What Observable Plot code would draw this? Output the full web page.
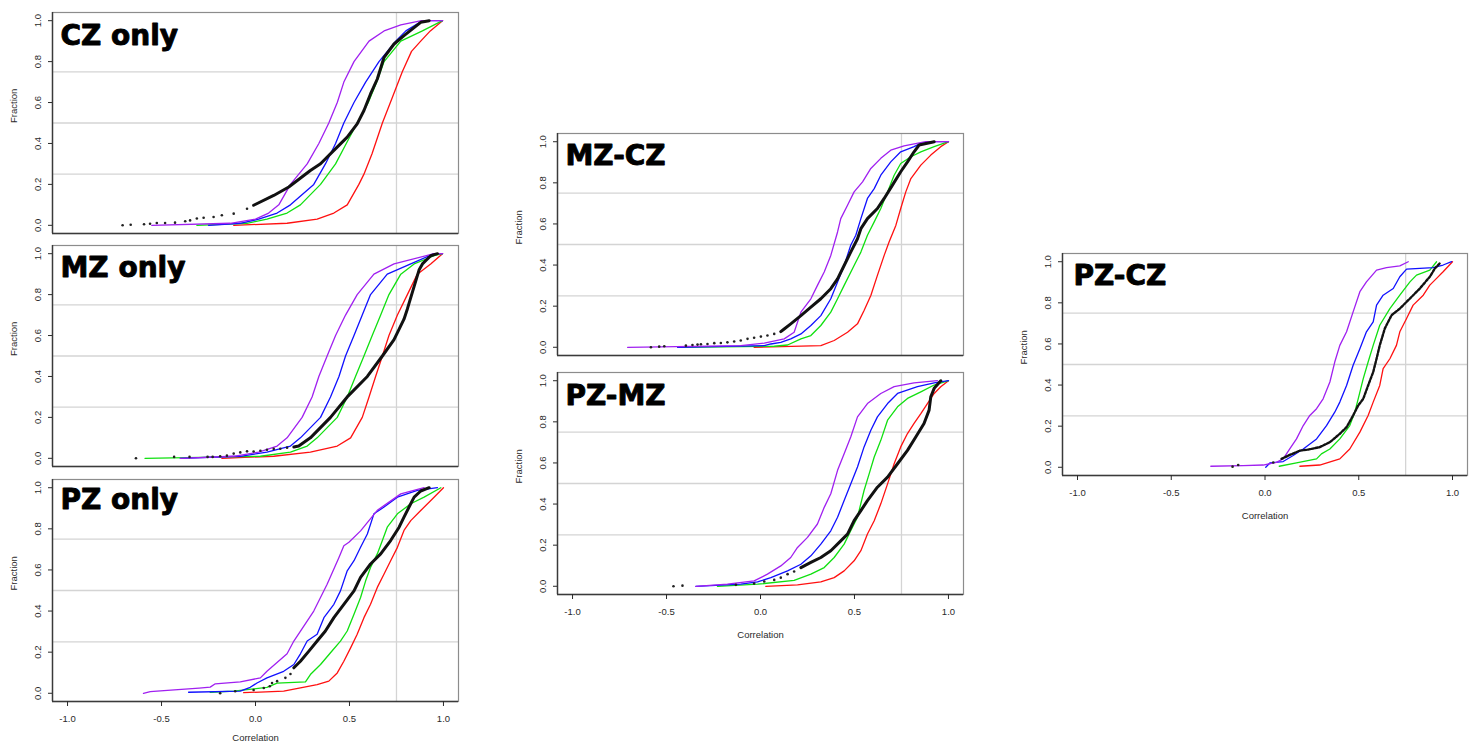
<!DOCTYPE html>
<html><head><meta charset="utf-8">
<script src="https://cdn.jsdelivr.net/npm/d3@7"></script>
<script src="https://cdn.jsdelivr.net/npm/@observablehq/plot@0.6"></script>
<style>
html,body{margin:0;padding:0;background:#fff;overflow:hidden;}
#wrap{position:relative;width:1473px;height:744px;overflow:hidden;}
#wrap svg{position:absolute;overflow:visible;}
</style></head><body><div id="wrap"></div>
<script>
// ---- axis / reference values ----
const xTicks = [-1, -0.5, 0, 0.5, 1];
const yTicks = [0, 0.2, 0.4, 0.6, 0.8, 1];
const fracLines = [0.25, 0.5, 0.75];
const corrLine = [0.75];
const panelTitles = ["CZ only", "MZ only", "PZ only", "MZ-CZ", "PZ-MZ", "PZ-CZ"];

// ---- CZ only : [correlation, fraction] ----
const czPurple = [[-0.552,0],[-0.134,0.01],[0.0,0.03],[0.07,0.06],[0.124,0.1],[0.186,0.2],[0.275,0.3],[0.337,0.4],[0.39,0.5],[0.435,0.6],[0.47,0.7],[0.524,0.8],[0.604,0.9],[0.684,0.95],[0.773,0.98],[0.883,1],[0.995,1]];
const czBlue = [[-0.25,0],[-0.081,0.01],[0.017,0.03],[0.115,0.06],[0.186,0.1],[0.31,0.2],[0.372,0.3],[0.426,0.4],[0.47,0.5],[0.524,0.6],[0.586,0.7],[0.657,0.8],[0.746,0.9],[0.8,0.95],[0.888,1],[0.995,1]];
const czGreen = [[-0.312,0],[-0.045,0.01],[0.061,0.03],[0.168,0.06],[0.239,0.1],[0.346,0.2],[0.426,0.3],[0.483,0.4],[0.541,0.5],[0.6,0.6],[0.645,0.7],[0.684,0.8],[0.773,0.9],[0.888,0.95],[0.995,1]];
const czRed = [[-0.116,0],[0.168,0.01],[0.328,0.03],[0.417,0.06],[0.488,0.1],[0.55,0.2],[0.577,0.25],[0.62,0.35],[0.675,0.5],[0.73,0.63],[0.781,0.75],[0.83,0.85],[0.879,0.9],[0.93,0.95],[0.995,1]];
const czBlack = [[-0.01,0.098],[0.097,0.146],[0.177,0.187],[0.292,0.268],[0.346,0.301],[0.417,0.366],[0.488,0.431],[0.541,0.496],[0.577,0.561],[0.612,0.642],[0.648,0.715],[0.684,0.821],[0.737,0.886],[0.79,0.927],[0.879,0.992],[0.924,1]];
const czTail = [[-0.707,0],[-0.664,0.003],[-0.593,0.005],[-0.561,0.008],[-0.525,0.011],[-0.481,0.011],[-0.428,0.013],[-0.374,0.02],[-0.348,0.024],[-0.312,0.033],[-0.276,0.037],[-0.223,0.041],[-0.179,0.049],[-0.116,0.057],[-0.045,0.081]];

// ---- MZ only ----
const mzPurple = [[-0.4,0],[-0.116,0.01],[0.017,0.03],[0.115,0.06],[0.168,0.1],[0.248,0.2],[0.301,0.3],[0.337,0.4],[0.381,0.5],[0.426,0.6],[0.479,0.7],[0.541,0.8],[0.63,0.9],[0.737,0.95],[0.95,1],[0.995,1]];
const mzBlue = [[-0.4,0],[-0.081,0.01],[0.061,0.03],[0.186,0.06],[0.239,0.1],[0.346,0.2],[0.399,0.3],[0.444,0.4],[0.479,0.5],[0.524,0.6],[0.568,0.7],[0.612,0.8],[0.701,0.9],[0.826,0.95],[0.95,1],[0.995,1]];
const mzGreen = [[-0.588,0],[0.026,0.01],[0.186,0.03],[0.275,0.06],[0.328,0.1],[0.435,0.2],[0.488,0.3],[0.532,0.4],[0.577,0.5],[0.621,0.6],[0.666,0.7],[0.71,0.8],[0.773,0.9],[0.844,0.95],[0.95,0.99],[0.995,1]];
const mzRed = [[-0.179,0],[0.097,0.01],[0.292,0.03],[0.435,0.06],[0.506,0.1],[0.568,0.2],[0.604,0.3],[0.639,0.4],[0.675,0.5],[0.71,0.6],[0.755,0.7],[0.808,0.8],[0.861,0.9],[0.932,0.95],[0.995,1]];
const mzBlack = [[0.204,0.055],[0.23,0.06],[0.292,0.1],[0.399,0.2],[0.488,0.3],[0.595,0.4],[0.675,0.5],[0.737,0.58],[0.79,0.68],[0.808,0.73],[0.844,0.84],[0.87,0.92],[0.888,0.95],[0.932,0.99],[0.968,1]];
const mzTail = [[-0.636,0],[-0.433,0.007],[-0.351,0.007],[-0.255,0.007],[-0.228,0.007],[-0.188,0.01],[-0.152,0.013],[-0.116,0.023],[-0.081,0.029],[-0.045,0.034],[-0.01,0.033],[0.026,0.037],[0.061,0.042],[0.097,0.046],[0.132,0.047],[0.168,0.052]];

// ---- PZ only ----
const pzPurple = [[-0.596,0],[-0.56,0.008],[-0.45,0.015],[-0.3,0.025],[-0.241,0.03],[-0.214,0.046],[-0.081,0.055],[0.026,0.075],[0.061,0.107],[0.168,0.192],[0.204,0.254],[0.31,0.4],[0.381,0.53],[0.444,0.661],[0.47,0.718],[0.497,0.735],[0.559,0.79],[0.648,0.89],[0.773,0.97],[0.897,1]];
const pzBlue = [[-0.356,0.005],[-0.081,0.01],[-0.028,0.029],[0.008,0.05],[0.061,0.075],[0.15,0.107],[0.204,0.14],[0.239,0.192],[0.275,0.254],[0.328,0.287],[0.364,0.368],[0.417,0.433],[0.452,0.498],[0.488,0.596],[0.524,0.645],[0.559,0.71],[0.595,0.775],[0.63,0.873],[0.684,0.906],[0.755,0.954],[0.861,0.987],[0.968,1]];
const pzGreen = [[-0.241,0.005],[-0.116,0.01],[0.061,0.029],[0.115,0.049],[0.266,0.055],[0.292,0.091],[0.346,0.14],[0.399,0.197],[0.452,0.254],[0.488,0.303],[0.524,0.384],[0.559,0.466],[0.586,0.547],[0.612,0.612],[0.648,0.678],[0.675,0.743],[0.701,0.808],[0.755,0.873],[0.826,0.922],[0.897,0.954],[0.986,1]];
const pzRed = [[-0.063,0.003],[0.15,0.01],[0.239,0.026],[0.328,0.042],[0.39,0.059],[0.435,0.099],[0.47,0.156],[0.506,0.221],[0.541,0.287],[0.577,0.368],[0.612,0.433],[0.648,0.515],[0.684,0.58],[0.719,0.645],[0.755,0.71],[0.79,0.792],[0.826,0.84],[0.879,0.889],[0.95,0.954],[1.0,1]];
const pzBlack = [[0.204,0.124],[0.239,0.156],[0.284,0.205],[0.328,0.254],[0.372,0.303],[0.417,0.368],[0.47,0.433],[0.524,0.498],[0.559,0.564],[0.612,0.629],[0.666,0.678],[0.719,0.743],[0.764,0.808],[0.79,0.857],[0.817,0.906],[0.844,0.954],[0.879,0.984],[0.924,1]];
const pzTail = [[-0.188,0],[-0.108,0.01],[-0.01,0.016],[0.044,0.026],[0.076,0.034],[0.088,0.05],[0.115,0.059],[0.159,0.075],[0.186,0.094]];

// ---- MZ-CZ ----
const mzczPurple = [[-0.707,0],[-0.105,0.008],[0.02,0.02],[0.126,0.041],[0.179,0.073],[0.215,0.171],[0.268,0.236],[0.303,0.301],[0.339,0.366],[0.374,0.447],[0.41,0.561],[0.427,0.626],[0.463,0.691],[0.498,0.756],[0.543,0.805],[0.587,0.87],[0.64,0.919],[0.693,0.959],[0.764,0.98],[0.879,1],[1.0,1]];
const mzczBlue = [[-0.441,0],[0.02,0.008],[0.055,0.016],[0.108,0.024],[0.161,0.041],[0.215,0.065],[0.268,0.106],[0.321,0.154],[0.374,0.236],[0.41,0.317],[0.445,0.398],[0.48,0.496],[0.507,0.545],[0.534,0.626],[0.569,0.724],[0.605,0.772],[0.64,0.837],[0.693,0.902],[0.746,0.951],[0.817,0.976],[0.853,0.992],[0.924,1],[1.0,1]];
const mzczGreen = [[-0.441,0],[0.073,0.005],[0.144,0.011],[0.215,0.041],[0.268,0.057],[0.321,0.106],[0.374,0.171],[0.41,0.236],[0.445,0.301],[0.498,0.398],[0.534,0.463],[0.569,0.545],[0.605,0.61],[0.64,0.675],[0.676,0.756],[0.711,0.837],[0.746,0.894],[0.8,0.927],[0.853,0.951],[0.924,0.976],[1.0,1]];
const mzczRed = [[-0.034,0],[0.321,0.008],[0.392,0.033],[0.463,0.073],[0.516,0.114],[0.551,0.179],[0.587,0.252],[0.622,0.35],[0.658,0.447],[0.684,0.512],[0.72,0.593],[0.746,0.675],[0.773,0.756],[0.8,0.821],[0.853,0.886],[0.906,0.935],[0.959,0.976],[1.0,1]];
const mzczBlack = [[0.108,0.076],[0.126,0.089],[0.161,0.114],[0.215,0.154],[0.268,0.195],[0.321,0.236],[0.374,0.285],[0.41,0.333],[0.445,0.398],[0.48,0.463],[0.516,0.528],[0.534,0.577],[0.569,0.626],[0.622,0.675],[0.658,0.724],[0.702,0.789],[0.746,0.854],[0.782,0.902],[0.817,0.951],[0.844,0.984],[0.924,1]];
const mzczTail = [[-0.583,0],[-0.539,0.003],[-0.512,0.005],[-0.397,0.008],[-0.362,0.011],[-0.335,0.013],[-0.317,0.015],[-0.282,0.016],[-0.246,0.02],[-0.211,0.021],[-0.176,0.024],[-0.14,0.028],[-0.105,0.033],[-0.069,0.041],[-0.034,0.046],[0.002,0.052],[0.037,0.057],[0.073,0.065]];

// ---- PZ-MZ ----
const pzmzPurple = [[-0.344,0],[-0.176,0.01],[-0.034,0.026],[0.037,0.059],[0.108,0.099],[0.161,0.14],[0.197,0.189],[0.25,0.238],[0.303,0.303],[0.339,0.384],[0.374,0.45],[0.41,0.564],[0.445,0.645],[0.48,0.726],[0.516,0.824],[0.569,0.889],[0.64,0.938],[0.711,0.971],[0.817,0.99],[0.941,1]];
const pzmzBlue = [[-0.344,0],[-0.105,0.01],[-0.016,0.021],[0.055,0.042],[0.144,0.075],[0.215,0.107],[0.268,0.148],[0.321,0.205],[0.374,0.27],[0.41,0.336],[0.445,0.417],[0.48,0.498],[0.516,0.58],[0.551,0.678],[0.587,0.759],[0.622,0.824],[0.676,0.889],[0.729,0.938],[0.835,0.971],[0.924,0.99],[1.0,1]];
const pzmzGreen = [[-0.229,0],[-0.016,0.01],[0.179,0.029],[0.268,0.059],[0.339,0.091],[0.392,0.14],[0.445,0.205],[0.48,0.27],[0.516,0.336],[0.551,0.466],[0.578,0.547],[0.605,0.629],[0.64,0.71],[0.676,0.808],[0.729,0.873],[0.782,0.914],[0.853,0.946],[0.924,0.979],[1.0,1]];
const pzmzRed = [[0.028,0],[0.197,0.007],[0.321,0.021],[0.392,0.042],[0.445,0.075],[0.498,0.124],[0.534,0.173],[0.569,0.254],[0.605,0.319],[0.64,0.401],[0.676,0.498],[0.711,0.596],[0.746,0.678],[0.782,0.743],[0.817,0.792],[0.853,0.84],[0.888,0.889],[0.924,0.938],[0.959,0.971],[1.0,1]];
const pzmzBlack = [[0.215,0.091],[0.268,0.116],[0.321,0.14],[0.374,0.173],[0.427,0.221],[0.463,0.254],[0.498,0.319],[0.534,0.368],[0.569,0.417],[0.622,0.482],[0.676,0.531],[0.729,0.596],[0.782,0.661],[0.826,0.726],[0.87,0.792],[0.897,0.857],[0.906,0.922],[0.924,0.963],[0.959,1]];
const pzmzTail = [[-0.463,0],[-0.415,0.003],[-0.131,0.007],[-0.034,0.013],[0.02,0.023],[0.073,0.031],[0.108,0.042],[0.144,0.059],[0.179,0.072]];

// ---- PZ-CZ ----
const pzczPurple = [[-0.289,0.005],[-0.116,0.008],[-0.01,0.011],[0.061,0.024],[0.097,0.041],[0.132,0.089],[0.168,0.138],[0.204,0.203],[0.239,0.252],[0.275,0.285],[0.31,0.333],[0.346,0.415],[0.372,0.512],[0.399,0.593],[0.435,0.659],[0.47,0.756],[0.506,0.854],[0.541,0.902],[0.595,0.959],[0.648,0.971],[0.719,0.98],[0.764,1]];
const pzczBlue = [[0.004,0],[0.026,0.021],[0.097,0.028],[0.15,0.057],[0.204,0.089],[0.275,0.138],[0.328,0.203],[0.372,0.268],[0.399,0.317],[0.435,0.398],[0.47,0.496],[0.506,0.577],[0.541,0.659],[0.577,0.707],[0.595,0.789],[0.63,0.837],[0.684,0.87],[0.719,0.927],[0.755,0.964],[0.897,0.971],[0.95,0.984],[0.995,1]];
const pzczGreen = [[0.076,0.005],[0.168,0.021],[0.275,0.041],[0.301,0.065],[0.346,0.089],[0.399,0.138],[0.452,0.203],[0.479,0.268],[0.497,0.333],[0.524,0.431],[0.55,0.512],[0.577,0.593],[0.612,0.691],[0.666,0.772],[0.719,0.837],[0.773,0.902],[0.808,0.935],[0.879,0.959],[0.915,1]];
const pzczRed = [[0.186,0.005],[0.292,0.011],[0.399,0.041],[0.452,0.089],[0.506,0.171],[0.55,0.252],[0.577,0.317],[0.612,0.398],[0.63,0.48],[0.666,0.528],[0.701,0.593],[0.719,0.659],[0.755,0.724],[0.79,0.789],[0.844,0.837],[0.879,0.886],[0.915,0.919],[0.95,0.951],[1.0,1]];
const pzczBlack = [[0.088,0.041],[0.132,0.06],[0.186,0.081],[0.23,0.086],[0.292,0.098],[0.346,0.122],[0.399,0.163],[0.435,0.195],[0.47,0.252],[0.497,0.301],[0.524,0.333],[0.55,0.398],[0.577,0.463],[0.595,0.528],[0.612,0.593],[0.639,0.675],[0.675,0.74],[0.719,0.772],[0.773,0.821],[0.826,0.87],[0.879,0.927],[0.906,0.967],[0.932,0.992]];
const pzczTail = [[-0.173,0.003],[-0.143,0.011],[0.044,0.023]];

// ---- drawing ----
const COL = {purple: "#a020f0", blue: "#1010ff", green: "#10e010", red: "#ff1010"};
const wrap = document.getElementById("wrap");
const fmt = d => d.toFixed(1);
const px = d => d[0], py = d => d[1];

function panel(cfg) {
  const mL = 50, mR = 10, mT = 4, mB = 50;
  const marks = [
    Plot.ruleY(fracLines, {stroke: "#d4d4d4", strokeWidth: 1.3}),
    Plot.ruleX(corrLine, {stroke: "#d4d4d4", strokeWidth: 1.3}),
    Plot.frame({stroke: "#8c8c8c", strokeWidth: 1.2}),
    Plot.ruleX([-1.08], {stroke: "#3a3a3a", strokeWidth: 1.4}),
    Plot.ruleY([-0.04], {stroke: "#3a3a3a", strokeWidth: 1.4}),
    Plot.line(cfg.red, {x: px, y: py, stroke: COL.red, strokeWidth: 1.3}),
    Plot.line(cfg.green, {x: px, y: py, stroke: COL.green, strokeWidth: 1.3}),
    Plot.line(cfg.blue, {x: px, y: py, stroke: COL.blue, strokeWidth: 1.3}),
    Plot.line(cfg.purple, {x: px, y: py, stroke: COL.purple, strokeWidth: 1.3}),
    Plot.line(cfg.black, {x: px, y: py, stroke: "#111", strokeWidth: cfg.dotted ? 2.4 : 3, strokeDasharray: cfg.dotted ? "2.5,1.5" : null}),
    Plot.dot(cfg.tail, {x: px, y: py, r: 1.3, fill: "#222", stroke: null}),
    Plot.axisY({ticks: yTicks, tickSize: 4, tickPadding: 8, tickRotate: -90, tickFormat: fmt, fontSize: 9.5, label: null}),
    Plot.text(["Fraction"], {frameAnchor: "left", dx: -38.5, rotate: -90, fontSize: 9.5}),
    Plot.text([cfg.title], {frameAnchor: "top-left", dx: cfg.tdx, dy: cfg.tdy, textAnchor: "start", lineAnchor: "top",
      fontSize: 28, fontWeight: "bold", fontFamily: "DejaVu Sans", fill: "#000", stroke: "#000", strokeWidth: 0.9})
  ];
  if (cfg.xAxis) {
    marks.push(Plot.axisX({ticks: xTicks, tickSize: 5, tickPadding: 9, tickFormat: fmt, fontSize: 9.5, label: null}));
    marks.push(Plot.text(["Correlation"], {frameAnchor: "bottom", dy: cfg.cdy, fontSize: 9.5, lineAnchor: "middle"}));
  }
  const svg = Plot.plot({
    width: cfg.w + mL + mR, height: cfg.h + mT + mB,
    marginLeft: mL, marginRight: mR, marginTop: mT, marginBottom: mB,
    x: {domain: [-1.08, 1.08], axis: cfg.xAxis ? undefined : null},
    y: {domain: [-0.04, 1.04]},
    style: {background: "transparent", color: "#2a2a2a", fontFamily: "'Liberation Sans', Arial, sans-serif", overflow: "visible"},
    marks
  });
  svg.style.left = (cfg.left - mL) + "px";
  svg.style.top = (cfg.top - mT) + "px";
  svg.style.position = "absolute";
  wrap.appendChild(svg);
}

panel({title: panelTitles[0], left: 52, top: 12, w: 406, h: 221, tdx: 8, tdy: 13, xAxis: false,
  purple: czPurple, blue: czBlue, green: czGreen, red: czRed, black: czBlack, tail: czTail});
panel({title: panelTitles[1], left: 52, top: 245, w: 406, h: 221, tdx: 8, tdy: 12, xAxis: false,
  purple: mzPurple, blue: mzBlue, green: mzGreen, red: mzRed, black: mzBlack, tail: mzTail});
panel({title: panelTitles[2], left: 52, top: 479, w: 406, h: 222, tdx: 8, tdy: 10, xAxis: true, cdy: 36,
  purple: pzPurple, blue: pzBlue, green: pzGreen, red: pzRed, black: pzBlack, tail: pzTail});
panel({title: panelTitles[3], left: 557, top: 133, w: 406, h: 222, tdx: 8, tdy: 12, xAxis: false,
  purple: mzczPurple, blue: mzczBlue, green: mzczGreen, red: mzczRed, black: mzczBlack, tail: mzczTail});
panel({title: panelTitles[4], left: 557, top: 372, w: 406, h: 222, tdx: 8, tdy: 13, xAxis: true, cdy: 40,
  purple: pzmzPurple, blue: pzmzBlue, green: pzmzGreen, red: pzmzRed, black: pzmzBlack, tail: pzmzTail});
panel({title: panelTitles[5], left: 1062, top: 253, w: 405, h: 222, tdx: 11, tdy: 12, xAxis: true, cdy: 40, dotted: true,
  purple: pzczPurple, blue: pzczBlue, green: pzczGreen, red: pzczRed, black: pzczBlack, tail: pzczTail});
</script>
</body></html>
